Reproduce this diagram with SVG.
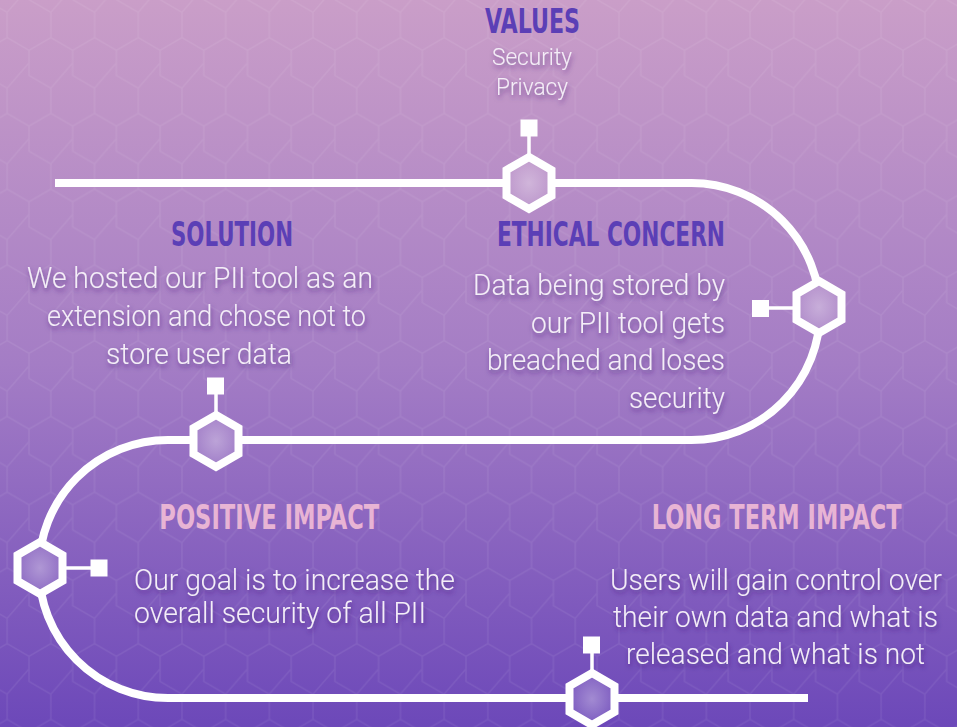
<svg xmlns="http://www.w3.org/2000/svg" width="957" height="727" viewBox="0 0 957 727">
<defs>
<style>
.hd{font-family:'DejaVu Sans Condensed','DejaVu Sans',sans-serif;font-stretch:condensed;font-weight:bold;font-size:33px}
.hp{fill:#5b3fb6}
.hk{fill:#e8b4d4}
.bd{font-family:Roboto,'Open Sans',sans-serif;font-weight:300;font-size:30px;fill:#f4eef8;filter:url(#shadow)}
.sm{font-size:23.5px}
.lt{font-size:29px}
.hexbase{fill:url(#bg)}
.hexring{fill:url(#glow);stroke:#ffffff;stroke-width:8;stroke-linejoin:miter}
.stem{stroke:#ffffff;stroke-width:3.5}
.sq{fill:#ffffff}
.conn{fill:none;stroke:#ffffff;stroke-width:8}
</style>
<linearGradient id="bg" x1="0" y1="0" x2="0" y2="727" gradientUnits="userSpaceOnUse">
<stop offset="0" stop-color="#ca9ec8"/>
<stop offset="0.5" stop-color="#a47dc5"/>
<stop offset="1" stop-color="#6c48b9"/>
</linearGradient>
<pattern id="hexgrid" patternUnits="userSpaceOnUse" x="7.15" y="-12.875" width="43.7" height="75.75">
<path d="M21.85,0 V12.625 L43.7,25.25 V50.5 L21.85,63.125 L0,50.5 V25.25 Z M21.85,63.125 V75.75" fill="none" stroke="#ffffff" stroke-opacity="0.07" stroke-width="1.5"/>
</pattern>
<radialGradient id="glow" cx="0.5" cy="0.5" r="0.5">
<stop offset="0" stop-color="#ffffff" stop-opacity="0.35"/>
<stop offset="1" stop-color="#ffffff" stop-opacity="0.1"/>
</radialGradient>
<filter id="shadow" x="-10%" y="-30%" width="120%" height="170%">
<feDropShadow dx="1" dy="3" stdDeviation="2.5" flood-color="#3b1f70" flood-opacity="0.6"/>
</filter>
</defs>

<rect x="0" y="0" width="957" height="727" fill="url(#bg)"/>
<rect x="0" y="0" width="957" height="727" fill="url(#hexgrid)"/>

<g id="connectors">
<path class="conn" d="M55,183 H691.5 A128.5,128.5 0 0 1 691.5,440 H168 A129,129 0 0 0 168,698 H808"/>
</g>

<g id="values">
<line class="stem" x1="529" y1="136" x2="529" y2="158"/>
<rect class="sq" x="520.5" y="119.5" width="17" height="17"/>
<path class="hexbase" d="M529,157 L551.5,170 L551.5,196 L529,209 L506.5,196 L506.5,170 Z"/>
<path class="hexring" d="M529,157 L551.5,170 L551.5,196 L529,209 L506.5,196 L506.5,170 Z"/>
<text class="hd hp" x="532.5" y="32.5" text-anchor="middle" textLength="95" lengthAdjust="spacingAndGlyphs">VALUES</text>
<text class="bd sm" x="532" y="64.5" text-anchor="middle" textLength="80" lengthAdjust="spacingAndGlyphs">Security</text>
<text class="bd sm" x="532" y="94.5" text-anchor="middle" textLength="72" lengthAdjust="spacingAndGlyphs">Privacy</text>
</g>

<g id="ethical-concern">
<line class="stem" x1="768" y1="308" x2="797" y2="308"/>
<rect class="sq" x="752" y="300" width="17" height="17"/>
<path class="hexbase" d="M819,281 L841.5,294 L841.5,320 L819,333 L796.5,320 L796.5,294 Z"/>
<path class="hexring" d="M819,281 L841.5,294 L841.5,320 L819,333 L796.5,320 L796.5,294 Z"/>
<text class="hd hp" x="725" y="246" text-anchor="end" textLength="228" lengthAdjust="spacingAndGlyphs">ETHICAL CONCERN</text>
<text class="bd" x="725" y="295" text-anchor="end" textLength="252" lengthAdjust="spacingAndGlyphs">Data being stored by</text>
<text class="bd" x="725" y="333" text-anchor="end" textLength="194" lengthAdjust="spacingAndGlyphs">our PII tool gets</text>
<text class="bd" x="725" y="370" text-anchor="end" textLength="238" lengthAdjust="spacingAndGlyphs">breached and loses</text>
<text class="bd" x="725" y="407.5" text-anchor="end" textLength="96" lengthAdjust="spacingAndGlyphs">security</text>
</g>

<g id="solution">
<line class="stem" x1="216" y1="393" x2="216" y2="416"/>
<rect class="sq" x="207" y="377.5" width="17" height="17"/>
<path class="hexbase" d="M216,415 L238.5,428 L238.5,454 L216,467 L193.5,454 L193.5,428 Z"/>
<path class="hexring" d="M216,415 L238.5,428 L238.5,454 L216,467 L193.5,454 L193.5,428 Z"/>
<text class="hd hp" x="232" y="246" text-anchor="middle" textLength="122" lengthAdjust="spacingAndGlyphs">SOLUTION</text>
<text class="bd" x="200" y="288" text-anchor="middle" textLength="346" lengthAdjust="spacingAndGlyphs">We hosted our PII tool as an</text>
<text class="bd" x="206.5" y="326" text-anchor="middle" textLength="319" lengthAdjust="spacingAndGlyphs">extension and chose not to</text>
<text class="bd" x="199" y="364" text-anchor="middle" textLength="186" lengthAdjust="spacingAndGlyphs">store user data</text>
</g>

<g id="positive-impact">
<line class="stem" x1="61" y1="568" x2="91" y2="568"/>
<rect class="sq" x="90.5" y="559.5" width="17" height="17"/>
<path class="hexbase" d="M40,542 L62.5,555 L62.5,581 L40,594 L17.5,581 L17.5,555 Z"/>
<path class="hexring" d="M40,542 L62.5,555 L62.5,581 L40,594 L17.5,581 L17.5,555 Z"/>
<text class="hd hk" x="269.3" y="529.3" text-anchor="middle" textLength="220" lengthAdjust="spacingAndGlyphs">POSITIVE IMPACT</text>
<text class="bd" x="134" y="589.5" textLength="321" lengthAdjust="spacingAndGlyphs">Our goal is to increase the</text>
<text class="bd" x="134" y="622.5" textLength="292" lengthAdjust="spacingAndGlyphs">overall security of all PII</text>
</g>

<g id="long-term-impact">
<line class="stem" x1="592" y1="652" x2="592" y2="674"/>
<rect class="sq" x="583" y="636.5" width="17" height="17"/>
<path class="hexbase" d="M592,673 L614.5,686 L614.5,712 L592,725 L569.5,712 L569.5,686 Z"/>
<path class="hexring" d="M592,673 L614.5,686 L614.5,712 L592,725 L569.5,712 L569.5,686 Z"/>
<text class="hd hk" transform="translate(776.7 529.3) scale(0.72 1)" x="0" y="0" text-anchor="middle" textLength="347" lengthAdjust="spacingAndGlyphs">LONG TERM IMPACT</text>
<text class="bd lt" x="776" y="590" text-anchor="middle" textLength="332" lengthAdjust="spacingAndGlyphs">Users will gain control over</text>
<text class="bd lt" x="775.5" y="627" text-anchor="middle" textLength="325" lengthAdjust="spacingAndGlyphs">their own data and what is</text>
<text class="bd lt" x="775.5" y="664" text-anchor="middle" textLength="299" lengthAdjust="spacingAndGlyphs">released and what is not</text>
</g>
</svg>
